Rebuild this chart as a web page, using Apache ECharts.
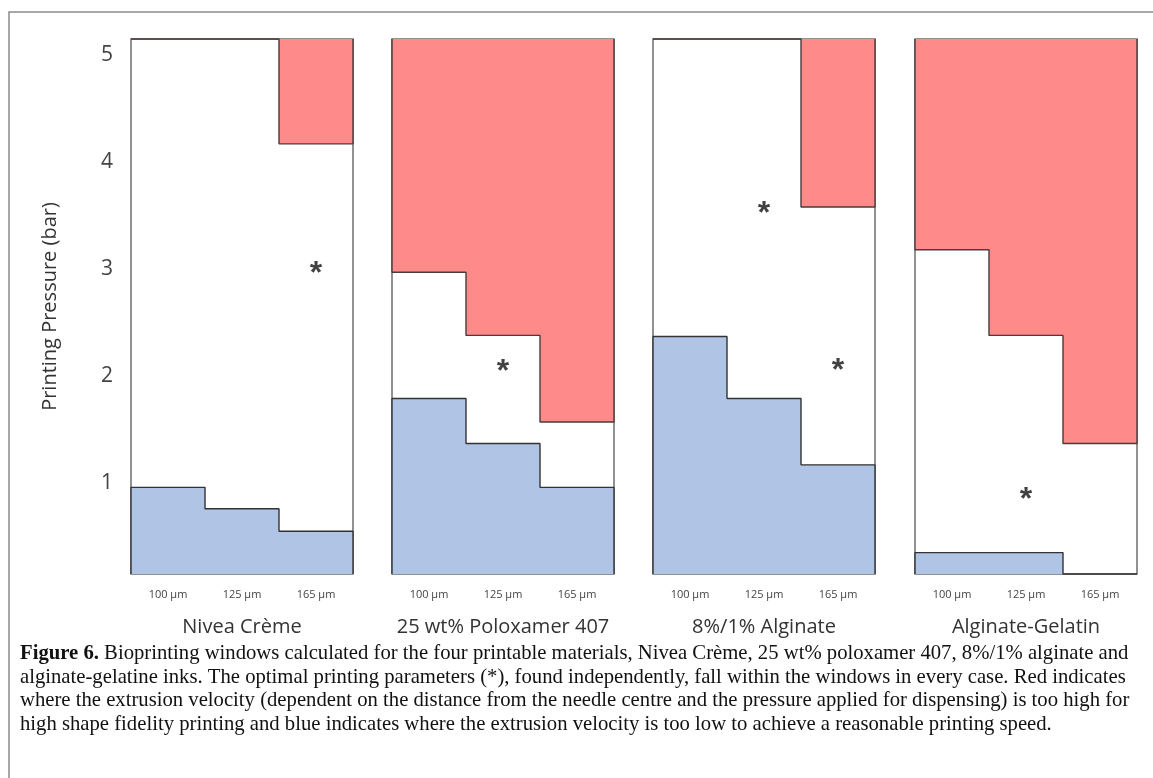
<!DOCTYPE html>
<html>
<head>
<meta charset="utf-8">
<script src="https://cdn.jsdelivr.net/npm/echarts@6/dist/echarts.min.js"></script>
<style>
html,body{margin:0;padding:0;background:#fff;}
#chart{width:1153px;height:778px;}
</style>
</head>
<body>
<div id="chart"></div>
<script>
// ---- data ----
const sizes = ['100 µm', '125 µm', '165 µm'];
const materials = ['Nivea Crème', '25 wt% Poloxamer 407', '8%/1% Alginate', 'Alginate-Gelatin'];
const pressureTicks = [1, 2, 3, 4, 5];
// upper edge of the "too slow" (blue) region, per needle size (null = none)
const niveaLow = [0.96, 0.76, 0.55];
const poloxamerLow = [1.79, 1.37, 0.96];
const alginateLow = [2.37, 1.79, 1.17];
const gelatinLow = [0.35, 0.35, null];
// lower edge of the "too fast" (red) region, per needle size (null = none)
const niveaHigh = [null, null, 4.17];
const poloxamerHigh = [2.97, 2.38, 1.57];
const alginateHigh = [null, null, 3.58];
const gelatinHigh = [3.18, 2.38, 1.37];
// optimal printing parameters (*): [needle size index, pressure]
const niveaOpt = [[2, 3.00]];
const poloxamerOpt = [[1, 2.08]];
const alginateOpt = [[1, 3.56], [2, 2.09]];
const gelatinOpt = [[1, 0.89]];

const lows = [niveaLow, poloxamerLow, alginateLow, gelatinLow];
const highs = [niveaHigh, poloxamerHigh, alginateHigh, gelatinHigh];
const opts = [niveaOpt, poloxamerOpt, alginateOpt, gelatinOpt];

const captionLines = [
  '{b|Figure 6.} Bioprinting windows calculated for the four printable materials, Nivea Crème, 25 wt% poloxamer 407, 8%/1% alginate and',
  'alginate-gelatine inks. The optimal printing parameters (*), found independently, fall within the windows in every case. Red indicates',
  'where the extrusion velocity (dependent on the distance from the needle centre and the pressure applied for dispensing) is too high for',
  'high shape fidelity printing and blue indicates where the extrusion velocity is too low to achieve a reasonable printing speed.'
];

// ---- layout ----
const Y_MIN = 0.15, Y_MAX = 5.15;
const gridLefts = [131, 392, 653, 915];
const GRID_W = 222, GRID_TOP = 39, GRID_H = 535;
const BLUE = '#b0c4e5', RED = '#ff8a8a';
const FONT = 'Open Sans';

function stepPoints(vals, fallback) {
  const pts = [[0, fallback]];
  vals.forEach((v, j) => {
    const y = v == null ? fallback : v;
    pts.push([j, y]);
    pts.push([j + 1, y]);
  });
  pts.push([vals.length, fallback]);
  return pts;
}

const grid = [], xAxis = [], yAxis = [], series = [];
materials.forEach((m, i) => {
  grid.push({
    left: gridLefts[i], top: GRID_TOP, width: GRID_W, height: GRID_H,
    containLabel: false, outerBoundsMode: 'none',
    show: true, borderColor: '#6e6e6e', borderWidth: 1.5, backgroundColor: '#fff'
  });
  // value axis used for drawing the regions (one unit per needle size)
  xAxis.push({
    type: 'value', gridIndex: i, min: 0, max: sizes.length, show: false, position: 'bottom'
  });
  // category axis for labels and panel title
  xAxis.push({
    type: 'category', gridIndex: i, data: sizes, boundaryGap: true, position: 'bottom',
    axisLine: {show: false}, axisTick: {show: false},
    axisLabel: {fontSize: 11, color: '#444', margin: 15, fontFamily: FONT},
    name: m, nameLocation: 'middle', nameGap: 43,
    nameTextStyle: {fontSize: 20, color: '#333', fontFamily: FONT}
  });
  yAxis.push({
    type: 'value', gridIndex: i, min: Y_MIN, max: Y_MAX, position: 'left',
    axisLine: {show: false}, axisTick: {show: false}, splitLine: {show: false},
    axisLabel: {
      show: i === 0, customValues: pressureTicks, fontSize: 21, color: '#444',
      margin: 18, fontFamily: FONT
    },
    name: i === 0 ? 'Printing Pressure (bar)' : '',
    nameLocation: 'middle', nameGap: 71,
    nameTextStyle: {fontSize: 20, color: '#333', fontFamily: FONT}
  });
  series.push({
    type: 'line', xAxisIndex: 2 * i, yAxisIndex: i,
    data: stepPoints(lows[i], Y_MIN), symbol: 'none', clip: false, silent: true,
    lineStyle: {color: '#333', width: 1.4},
    areaStyle: {color: BLUE, opacity: 1, origin: 'start'}, z: 3
  });
  series.push({
    type: 'line', xAxisIndex: 2 * i, yAxisIndex: i,
    data: stepPoints(highs[i], Y_MAX), symbol: 'none', clip: false, silent: true,
    lineStyle: {color: '#4a3a3a', width: 1.4},
    areaStyle: {color: RED, opacity: 1, origin: 'end'}, z: 3
  });
  series.push({
    type: 'scatter', xAxisIndex: 2 * i, yAxisIndex: i,
    data: opts[i].map(p => [p[0] + 0.5, p[1]]),
    symbolSize: 1, itemStyle: {color: 'rgba(0,0,0,0)'}, silent: true, z: 5,
    label: {
      show: true, formatter: '*', position: 'inside', offset: [0, 5],
      fontSize: 32, fontWeight: 'bold', color: '#111', fontFamily: 'Liberation Sans'
    }
  });
});

// caption font size chosen so the first (justified) line spans the caption width
const CAP_W = 1111;
const ctx = document.createElement('canvas').getContext('2d');
const plain = captionLines[0].replace('{b|Figure 6.}', '');
ctx.font = 'bold 20px "Liberation Serif"';
let w = ctx.measureText('Figure 6.').width;
ctx.font = '20px "Liberation Serif"';
w += ctx.measureText(plain).width;
const capSize = Math.round(20 * CAP_W / w * 10) / 10;
const capY = [654, 677.5, 701, 724.5];

const graphic = [{
  type: 'polyline', silent: true,
  shape: {points: [[9, 790], [9, 12], [1160, 12]]},
  style: {stroke: '#8a8a8a', lineWidth: 1.5, fill: null}
}];
captionLines.forEach((t, k) => {
  graphic.push({
    type: 'text', x: 20, y: capY[k], silent: true,
    style: {
      text: t, fontFamily: 'Liberation Serif', fontSize: capSize, fill: '#111',
      verticalAlign: 'middle', align: 'left',
      rich: {b: {fontWeight: 'bold', fontFamily: 'Liberation Serif', fontSize: capSize, fill: '#111'}}
    }
  });
});

const chart = echarts.init(document.getElementById('chart'), null, {renderer: 'canvas'});
chart.setOption({
  animation: false,
  backgroundColor: '#fff',
  grid, xAxis, yAxis, series, graphic
});
</script>
</body>
</html>
